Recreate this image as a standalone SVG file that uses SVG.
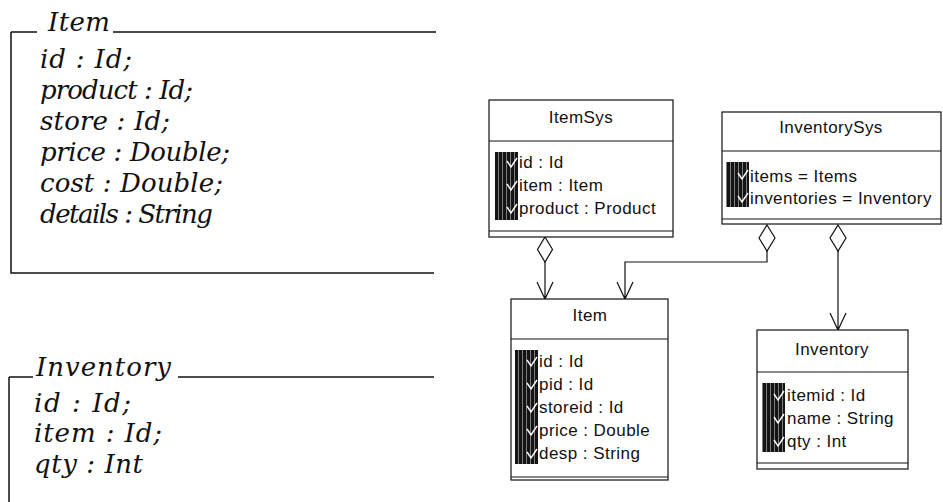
<svg xmlns="http://www.w3.org/2000/svg" width="943" height="502" viewBox="0 0 943 502">
<style>
.z{font-family:"DejaVu Serif","Liberation Serif",serif;font-style:italic;font-size:26px;fill:#111}
.zl{stroke:#111;stroke-width:1.5;fill:none}
.bx{fill:#fff;stroke:#111;stroke-width:1.2}
.ln{stroke:#111;stroke-width:1.2;fill:none}
.t{font-family:"Liberation Sans",Arial,sans-serif;font-size:17px;letter-spacing:0.45px;fill:#111}
.tc{text-anchor:middle}
.ck{stroke:#fff;stroke-width:1.4;fill:none}
.cn{stroke:#111;stroke-width:1.2;fill:none}
.dm{fill:#fff;stroke:#111;stroke-width:1.2}
</style>
<defs>
<pattern id="st" width="4" height="6" patternUnits="userSpaceOnUse"><rect width="4" height="6" fill="#141414"/><rect x="2" width="0.9" height="6" fill="#8a8a8a"/></pattern>
<path id="ck" d="M -9 -7 L -5 -1 L 1 -10"/>
</defs>

<g id="schema-item">
<path class="zl" d="M11 32 H37 M113 32 H436 M11 32 V273 H434"/>
<text class="z" x="48" y="31" textLength="62" lengthAdjust="spacing">Item</text>
<text class="z" x="40" y="68" textLength="92" lengthAdjust="spacing">id : Id;</text>
<text class="z" x="40" y="99" textLength="153" lengthAdjust="spacing">product : Id;</text>
<text class="z" x="40" y="130" textLength="130" lengthAdjust="spacing">store : Id;</text>
<text class="z" x="40" y="161" textLength="190" lengthAdjust="spacing">price : Double;</text>
<text class="z" x="40" y="192" textLength="183" lengthAdjust="spacing">cost : Double;</text>
<text class="z" x="40" y="223" textLength="173" lengthAdjust="spacing">details : String</text>
</g>

<g id="schema-inventory">
<path class="zl" d="M9 377 H33 M178 377 H434 M9 377 V502"/>
<text class="z" x="36" y="376" textLength="135" lengthAdjust="spacing">Inventory</text>
<text class="z" x="34" y="412" textLength="97" lengthAdjust="spacing">id : Id;</text>
<text class="z" x="34" y="442" textLength="128" lengthAdjust="spacing">item : Id;</text>
<text class="z" x="34" y="473" textLength="109" lengthAdjust="spacing">qty : Int</text>
</g>

<g id="connectors">
<path class="cn" d="M545 262 V299 M537 282 L545 299 L553 282"/>
<polygon class="dm" points="545,237 552.5,249.5 545,262 537.5,249.5"/>
<path class="cn" d="M767 251 V262 H625 V299 M617 282 L625 299 L633 282"/>
<polygon class="dm" points="767,225 775,238 767,251 759,238"/>
<path class="cn" d="M838 251 V330 M830 313 L838 330 L846 313"/>
<polygon class="dm" points="838,225 846,238 838,251 830,238"/>
</g>

<g id="ItemSys">
<rect class="bx" x="489" y="100" width="184" height="137"/>
<path class="ln" d="M489 141 H673 M489 231 H673"/>
<text class="t tc" x="581" y="123">ItemSys</text>
<rect x="495" y="152" width="23" height="68" fill="url(#st)"/>
<use href="#ck" class="ck" x="516" y="168"/>
<use href="#ck" class="ck" x="516" y="191"/>
<use href="#ck" class="ck" x="516" y="214"/>
<text class="t" x="519" y="168">id : Id</text>
<text class="t" x="519" y="191">item : Item</text>
<text class="t" x="519" y="214">product : Product</text>
</g>

<g id="InventorySys">
<rect class="bx" x="722" y="112" width="219" height="112"/>
<path class="ln" d="M722 151 H941 M722 219 H941"/>
<text class="t tc" x="831" y="133">InventorySys</text>
<rect x="726" y="162" width="23" height="45" fill="url(#st)"/>
<use href="#ck" class="ck" x="747" y="180"/>
<use href="#ck" class="ck" x="747" y="203"/>
<text class="t" x="750" y="182">items = Items</text>
<text class="t" x="750" y="204">inventories = Inventory</text>
</g>

<g id="Item">
<rect class="bx" x="511" y="299" width="157" height="181"/>
<path class="ln" d="M511 339 H668 M511 477 H668"/>
<text class="t tc" x="590" y="321">Item</text>
<rect x="515" y="350" width="23" height="114" fill="url(#st)"/>
<use href="#ck" class="ck" x="536" y="367"/>
<use href="#ck" class="ck" x="536" y="390"/>
<use href="#ck" class="ck" x="536" y="413"/>
<use href="#ck" class="ck" x="536" y="436"/>
<use href="#ck" class="ck" x="536" y="459"/>
<text class="t" x="539" y="367">id : Id</text>
<text class="t" x="539" y="390">pid : Id</text>
<text class="t" x="539" y="413">storeid : Id</text>
<text class="t" x="539" y="436">price : Double</text>
<text class="t" x="539" y="459">desp : String</text>
</g>

<g id="Inventory">
<rect class="bx" x="757" y="330" width="151" height="139"/>
<path class="ln" d="M757 372 H908 M757 463 H908"/>
<text class="t tc" x="832" y="355">Inventory</text>
<rect x="762" y="383" width="23" height="69" fill="url(#st)"/>
<use href="#ck" class="ck" x="783" y="401"/>
<use href="#ck" class="ck" x="783" y="424"/>
<use href="#ck" class="ck" x="783" y="447"/>
<text class="t" x="787" y="401">itemid : Id</text>
<text class="t" x="787" y="424">name : String</text>
<text class="t" x="787" y="447">qty : Int</text>
</g>
</svg>
